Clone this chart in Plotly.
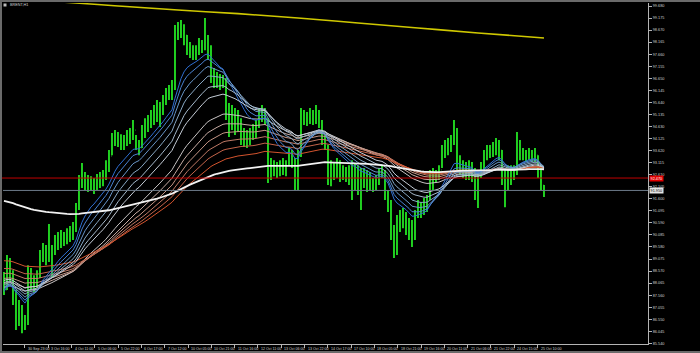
import plotly.graph_objects as go

# ---------------- data ----------------
highs = [88.53,89.24,89.12,88.61,87.78,87.36,87.15,86.73,88.82,88.70,88.40,88.61,89.45,89.75,89.66,90.54,89.66,90.08,90.21,90.29,
         90.21,90.37,90.46,90.63,91.42,92.60,93.10,92.72,92.60,92.55,92.47,92.64,92.72,92.81,93.22,93.64,94.36,94.48,94.40,94.31,
         94.27,94.48,94.57,94.90,94.27,94.06,94.69,94.98,95.11,95.32,95.53,95.74,95.66,95.95,96.24,96.37,96.58,98.88,99.01,99.09,
         98.92,98.46,98.17,98.04,98.04,98.34,98.25,99.18,98.46,98.04,97.08,96.91,96.83,96.79,96.66,95.61,95.53,95.40,95.32,94.98,
         94.57,94.48,94.57,94.73,94.90,95.40,95.53,95.40,94.98,93.31,93.22,93.14,93.22,93.31,93.22,93.77,93.64,93.31,93.64,95.40,
         95.32,95.24,95.40,95.32,95.53,95.32,94.90,94.27,93.85,93.22,93.14,93.31,93.22,93.01,92.93,93.01,93.22,93.10,93.01,92.89,
         92.89,92.81,92.72,92.47,92.60,92.89,93.01,92.81,91.97,91.55,90.50,90.92,91.13,91.21,91.05,90.79,90.71,91.13,91.55,91.46,
         91.63,91.76,92.81,92.89,92.81,93.01,93.85,94.06,94.15,94.27,94.90,94.57,93.43,93.22,93.14,93.22,93.14,92.89,92.81,93.14,
         93.64,93.85,93.85,93.98,94.15,94.06,93.64,92.89,93.01,93.01,93.01,94.40,94.06,93.73,93.64,93.73,93.64,93.73,93.43,93.01,
         92.18]
lows = [87.57,87.78,88.11,87.15,86.10,86.27,85.97,86.10,86.31,87.78,87.69,87.86,88.28,88.95,88.82,88.95,88.28,89.24,89.45,89.54,
        89.62,89.70,89.79,89.87,90.21,91.13,92.05,91.97,91.88,91.97,91.80,91.97,92.05,92.13,92.39,92.72,93.43,93.81,93.77,93.64,
        93.64,93.81,93.90,94.06,93.64,93.43,93.73,94.15,94.40,94.57,94.69,94.82,94.61,95.11,95.53,95.74,95.74,96.16,98.25,98.34,
        98.04,97.63,97.50,97.42,97.42,97.63,97.71,97.83,97.42,96.45,96.24,96.24,96.16,96.24,94.90,94.19,94.48,94.27,94.40,93.85,
        93.77,93.73,93.85,94.06,94.15,94.57,94.82,94.69,92.26,92.39,92.55,92.47,92.55,92.60,92.55,93.01,92.89,91.97,91.97,93.35,
        94.69,94.65,94.73,94.69,94.73,94.57,93.85,93.64,92.18,92.13,92.39,92.47,92.30,92.39,92.30,92.18,91.55,91.97,91.76,91.13,
        92.05,91.88,91.97,91.88,91.97,92.18,92.47,91.55,91.05,89.87,89.12,89.24,90.21,90.37,90.08,89.87,89.58,89.87,90.79,90.79,
        90.92,91.05,91.55,91.97,92.30,92.39,92.89,93.31,93.43,93.56,93.85,92.81,92.60,92.47,92.39,92.39,92.30,91.55,91.21,92.47,
        92.81,93.22,93.31,93.35,93.43,93.22,92.18,91.25,91.97,92.18,92.39,92.60,93.22,93.22,93.14,93.22,93.14,93.14,92.47,91.97,
        91.67]
closes = [87.78,88.95,88.28,87.36,86.60,86.85,86.43,86.43,88.53,88.11,87.99,88.40,89.24,89.54,89.12,89.45,89.45,89.66,89.87,89.96,
          89.87,90.04,90.21,90.37,91.21,92.39,92.60,92.30,92.13,92.30,92.05,92.39,92.55,92.55,93.01,93.39,94.06,94.15,94.06,93.90,
          93.98,94.15,94.31,94.48,93.81,93.73,94.48,94.65,94.90,94.98,95.24,95.32,95.40,95.74,95.95,96.07,96.24,98.46,98.67,98.76,
          98.46,98.04,97.75,97.63,97.83,97.92,98.04,98.25,97.83,96.79,96.58,96.49,96.41,96.58,95.32,94.69,95.24,94.90,94.69,94.15,
          94.06,93.98,94.27,94.48,94.69,95.11,95.24,94.98,92.89,92.81,92.89,92.72,92.97,92.89,93.01,93.56,93.22,92.18,93.22,95.11,
          94.98,95.07,95.15,94.98,95.24,94.82,94.06,93.85,92.60,92.81,92.72,92.89,92.81,92.72,92.60,92.47,92.39,92.72,92.18,92.30,
          92.47,92.30,92.18,92.13,92.30,92.72,92.72,91.76,91.34,90.21,89.66,90.50,90.79,90.92,90.50,90.29,90.08,90.92,91.13,91.21,
          91.34,91.63,92.47,92.60,92.55,92.81,93.64,93.73,93.85,94.06,94.40,93.22,92.89,92.81,92.72,92.89,92.60,91.88,92.60,92.89,
          93.43,93.64,93.64,93.73,93.85,93.64,92.60,92.18,92.39,92.72,92.81,93.43,93.56,93.48,93.43,93.56,93.39,93.43,92.81,92.18,
          91.95]

# long moving average (yellow), sampled at a few bars
yellow_bars = [0, 18, 38, 58, 78, 98, 118, 138, 158, 180]
yellow_vals = [100.02, 99.86, 99.68, 99.51, 99.36, 99.18, 98.97, 98.76, 98.55, 98.34]

# ribbon indicator settings (periods and starting levels read at the left edge)
blue_periods = [12, 15, 19, 24, 30, 36]
blue_seeds = [87.70, 87.80, 87.90, 88.00, 88.10, 88.20]
red_periods = [50, 58, 66, 75, 85, 100]
red_seeds = [87.90, 88.07, 88.28, 88.49, 88.70, 89.03]
white_period = 200
white_seed = 91.55

red_level = 92.47
bid_level = 91.95
red_label = "92.470"
bid_label = "91.950"

price_labels = ["99.680","99.175","98.670","98.165","97.660","97.155","96.650","96.145","95.640","95.135",
                "94.630","94.125","93.620","93.115","92.610","92.105","91.600","91.095","90.590","90.085",
                "89.580","89.075","88.570","88.065","87.560","87.055","86.550","86.045","85.540"]
time_labels = ["30 Sep 2022","30 Sep 23:00","3 Oct 16:00","4 Oct 11:00","5 Oct 06:00","5 Oct 22:00",
               "6 Oct 17:00","7 Oct 12:00","10 Oct 05:00","10 Oct 21:00","11 Oct 16:00","12 Oct 11:00",
               "13 Oct 06:00","13 Oct 22:00","14 Oct 17:00","17 Oct 10:00","18 Oct 05:00","18 Oct 21:00",
               "19 Oct 16:00","20 Oct 11:00","21 Oct 06:00","21 Oct 22:00","24 Oct 15:00","25 Oct 10:00"]

# ---------------- build ----------------
n = min(len(highs), len(lows), len(closes))
bars = list(range(n))
opens = [closes[0]] + closes[:n - 1]


def ema(values, period, seed):
    a = 2.0 / (period + 1)
    v = seed
    out = []
    for x in values:
        v = v + a * (x - v)
        out.append(v)
    return out


fig = go.Figure()
fig.add_trace(go.Ohlc(
    x=bars, open=opens, high=highs[:n], low=lows[:n], close=closes[:n],
    increasing=dict(line=dict(color="#28ff28", width=1.6)),
    decreasing=dict(line=dict(color="#28ff28", width=1.6)),
    tickwidth=0.1, hoverinfo="skip"))

red_colors = ["#c8c4c4", "#c8aca4", "#c49484", "#c07a66", "#c4644a", "#d4542e"]
for p, s, c in zip(red_periods, red_seeds, red_colors):
    fig.add_trace(go.Scatter(x=bars, y=ema(closes[:n], p, s), mode="lines",
                             line=dict(color=c, width=1), hoverinfo="skip"))

blue_colors = ["#2e6ed2", "#4a82d0", "#6896c8", "#88a8c4", "#a6bacc", "#c4ccd6"]
for p, s, c in zip(blue_periods, blue_seeds, blue_colors):
    fig.add_trace(go.Scatter(x=bars, y=ema(closes[:n], p, s), mode="lines",
                             line=dict(color=c, width=1), hoverinfo="skip"))

fig.add_trace(go.Scatter(x=bars, y=ema(closes[:n], white_period, white_seed), mode="lines",
                         line=dict(color="#f2f2f2", width=1.8), hoverinfo="skip"))
fig.add_trace(go.Scatter(x=yellow_bars, y=yellow_vals, mode="lines", line_shape="spline",
                         line=dict(color="#cfc800", width=1.6), hoverinfo="skip"))

# layout geometry
W, H = 700, 353
L, R, T, B = 3, 52, 3, 9
pw, ph = W - L - R, H - T - B
bar_px = 3.0
x0 = -0.33
x1 = x0 + pw / bar_px
px_per_price = 1 / 0.04191
y_top = float(price_labels[0]) + 3 * 0.04191
y_bot = y_top - ph / px_per_price

LABEL_STEP = 23.3 / bar_px
tick_pos = [k * LABEL_STEP + x0 - 0.45 for k in range(len(time_labels))]

axis_col = "#b4b4b4"
fig.update_layout(
    width=W, height=H, margin=dict(l=L, r=R, t=T, b=B),
    paper_bgcolor="black", plot_bgcolor="black", showlegend=False,
    xaxis=dict(range=[x0, x1], showgrid=False, zeroline=False, showline=True,
               linecolor=axis_col, linewidth=1, tickvals=tick_pos, ticks="outside",
               ticklen=3, tickcolor=axis_col, showticklabels=False,
               rangeslider=dict(visible=False), fixedrange=True),
    yaxis=dict(range=[y_bot, y_top], side="right", showgrid=False, zeroline=False,
               showline=True, linecolor=axis_col, linewidth=1,
               tickvals=[float(t) for t in price_labels], ticktext=price_labels,
               ticks="outside", ticklen=3, tickcolor=axis_col,
               tickfont=dict(size=3.8, color="#cfcfcf", family="Liberation Sans"),
               fixedrange=True),
)

ann = []
for pos, lab in zip(tick_pos, time_labels):
    ann.append(dict(x=pos, xref="x", y=-4.5 / ph, yref="paper", text=lab, showarrow=False,
                    xanchor="left", yanchor="middle", xshift=1,
                    font=dict(size=3.6, color="#cfcfcf", family="Liberation Sans")))
ann.append(dict(x=5 / pw, xref="paper", y=1 - 2 / ph, yref="paper", text="BRENT,H1",
                showarrow=False, xanchor="left", yanchor="middle",
                font=dict(size=3.8, color="#cfcfcf", family="Liberation Sans")))
ann.append(dict(x=1, xref="paper", xanchor="left", xshift=1, y=red_level, yref="y",
                text=red_label, showarrow=False, bgcolor="#e00000", borderpad=0.6,
                font=dict(size=3.8, color="white", family="Liberation Sans")))
ann.append(dict(x=1, xref="paper", xanchor="left", xshift=1, y=bid_level, yref="y",
                text=bid_label, showarrow=False, bgcolor="#e4e4e4", borderpad=0.6,
                font=dict(size=3.8, color="black", family="Liberation Sans")))
fig.update_layout(annotations=ann)

shapes = [
    dict(type="line", xref="paper", x0=-L / pw, x1=1, yref="y", y0=red_level, y1=red_level,
         line=dict(color="#c00000", width=1)),
    dict(type="line", xref="paper", x0=0, x1=1, yref="y", y0=bid_level, y1=bid_level,
         line=dict(color="#6c7a88", width=1)),
    # window frame
    dict(type="rect", xref="paper", yref="paper", x0=-L / pw, x1=(W - L) / pw,
         y0=1 + 1 / ph, y1=1 + T / ph, fillcolor="#6a6a6a", line=dict(width=0)),
    dict(type="rect", xref="paper", yref="paper", x0=-L / pw, x1=-1 / pw,
         y0=-B / ph, y1=1 + T / ph, fillcolor="#6a6a6a", line=dict(width=0)),
    dict(type="rect", xref="paper", yref="paper", x0=-L / pw, x1=(W - L) / pw,
         y0=-B / ph, y1=-(B - 2) / ph, fillcolor="#6a6a6a", line=dict(width=0)),
    # symbol icon
    dict(type="rect", xref="paper", yref="paper", x0=0.5 / pw, x1=3.5 / pw,
         y0=1 - 3.5 / ph, y1=1 - 0.5 / ph, fillcolor="#bbbbbb", line=dict(width=0)),
]
fig.update_layout(shapes=shapes)

fig.write_html("out.html")
